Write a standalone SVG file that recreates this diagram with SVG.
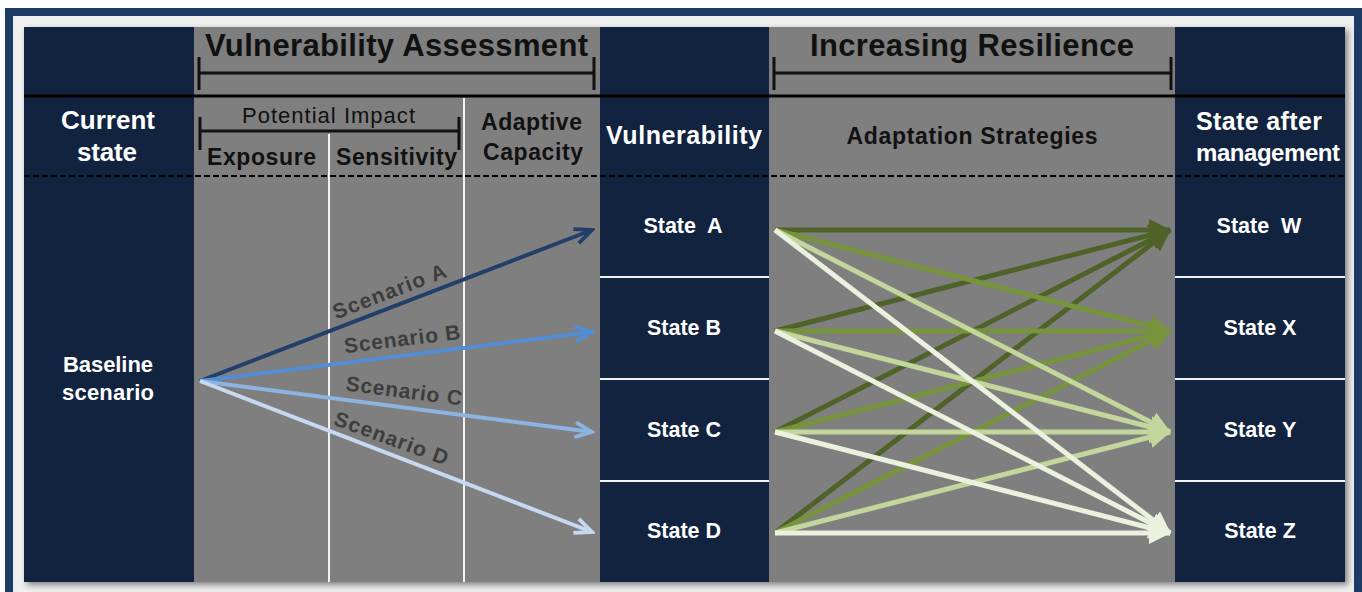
<svg xmlns="http://www.w3.org/2000/svg" width="1362" height="592" viewBox="0 0 1362 592">
<style>
.navy{fill:#11233f}
.gray{fill:#7f7f7f}
.wt{fill:#ffffff;font-family:"Liberation Sans",Arial,sans-serif;font-weight:bold;text-anchor:middle}
.bk{fill:#111111;font-family:"Liberation Sans",Arial,sans-serif;font-weight:bold;text-anchor:middle}
.bkr{fill:#111111;font-family:"Liberation Sans",Arial,sans-serif;font-weight:normal;text-anchor:middle}
.sc{fill:#3d3d3d;font-family:"Liberation Sans",Arial,sans-serif;font-weight:bold;font-size:21px;text-anchor:middle}
.pre{white-space:pre}
.div{stroke:#f2f2f2;stroke-width:2}
.brk{stroke:#111111;stroke-width:3;fill:none}
.scen{stroke-width:4;fill:none}
.grn{stroke-width:5;fill:none}
</style>
<defs>
<filter id="sh" x="-5%" y="-5%" width="110%" height="110%"><feGaussianBlur stdDeviation="3"/></filter>
<marker id="mA" viewBox="-3 -3 23 21" markerWidth="23" markerHeight="21" refX="17" refY="7.5" orient="auto" markerUnits="userSpaceOnUse"><path d="M0,0 L17,7.5 L0,15" fill="none" stroke="#213f69" stroke-width="3.8"/></marker>
<marker id="mB" viewBox="-3 -3 23 21" markerWidth="23" markerHeight="21" refX="17" refY="7.5" orient="auto" markerUnits="userSpaceOnUse"><path d="M0,0 L17,7.5 L0,15" fill="none" stroke="#538dd5" stroke-width="3.8"/></marker>
<marker id="mC" viewBox="-3 -3 23 21" markerWidth="23" markerHeight="21" refX="17" refY="7.5" orient="auto" markerUnits="userSpaceOnUse"><path d="M0,0 L17,7.5 L0,15" fill="none" stroke="#8db3e2" stroke-width="3.8"/></marker>
<marker id="mD" viewBox="-3 -3 23 21" markerWidth="23" markerHeight="21" refX="17" refY="7.5" orient="auto" markerUnits="userSpaceOnUse"><path d="M0,0 L17,7.5 L0,15" fill="none" stroke="#c6d9f1" stroke-width="3.8"/></marker>
<marker id="gW" viewBox="0 0 22 22" markerWidth="22" markerHeight="22" refX="21" refY="11" orient="auto" markerUnits="userSpaceOnUse"><path d="M0,0 L22,11 L0,22 z" fill="#4f6228"/></marker>
<marker id="gX" viewBox="0 0 22 22" markerWidth="22" markerHeight="22" refX="21" refY="11" orient="auto" markerUnits="userSpaceOnUse"><path d="M0,0 L22,11 L0,22 z" fill="#77933c"/></marker>
<marker id="gY" viewBox="0 0 22 22" markerWidth="22" markerHeight="22" refX="21" refY="11" orient="auto" markerUnits="userSpaceOnUse"><path d="M0,0 L22,11 L0,22 z" fill="#c3d69b"/></marker>
<marker id="gZ" viewBox="0 0 22 22" markerWidth="22" markerHeight="22" refX="21" refY="11" orient="auto" markerUnits="userSpaceOnUse"><path d="M0,0 L22,11 L0,22 z" fill="#ebf1de"/></marker>
</defs>

<g id="frame">
<rect x="0" y="0" width="1362" height="592" fill="#ffffff"/>
<rect x="5" y="8" width="1357" height="590" fill="#1c3a63"/>
<rect x="13" y="16" width="1341" height="590" fill="#efefef"/>
<rect x="27" y="30" width="1321" height="555" fill="#000" opacity="0.45" filter="url(#sh)"/>
</g>

<g id="columns">
<rect class="navy" x="24" y="27" width="170" height="555"/>
<rect class="gray" x="194" y="27" width="406" height="555"/>
<rect class="navy" x="600" y="27" width="169" height="555"/>
<rect class="gray" x="769" y="27" width="406" height="555"/>
<rect class="navy" x="1175" y="27" width="170" height="555"/>
<line x1="24" y1="96" x2="1345" y2="96" stroke="#000" stroke-width="3"/>
<line x1="24" y1="176" x2="1345" y2="176" stroke="#000" stroke-width="2" stroke-dasharray="6,3"/>
<line class="div" x1="329" y1="134" x2="329" y2="582"/>
<line class="div" x1="464" y1="98" x2="464" y2="582"/>
<line class="div" x1="600" y1="277" x2="769" y2="277"/>
<line class="div" x1="600" y1="379" x2="769" y2="379"/>
<line class="div" x1="600" y1="481" x2="769" y2="481"/>
<line class="div" x1="1175" y1="277" x2="1345" y2="277"/>
<line class="div" x1="1175" y1="379" x2="1345" y2="379"/>
<line class="div" x1="1175" y1="481" x2="1345" y2="481"/>
</g>

<g id="vulnerability-assessment-header">
<text class="bk" x="396.5" y="56" font-size="31" textLength="383">Vulnerability Assessment</text>
<path class="brk" d="M199,57 V90 M199,73 H594 M594,57 V90"/>
</g>
<g id="increasing-resilience-header">
<text class="bk" x="972" y="56" font-size="31" textLength="324">Increasing Resilience</text>
<path class="brk" d="M774,57 V90 M774,73 H1171 M1171,57 V90"/>
</g>

<g id="current-state">
<text class="wt" x="108" y="129" font-size="26" textLength="94">Current</text>
<text class="wt" x="107" y="161" font-size="26" textLength="60">state</text>
</g>
<g id="potential-impact">
<text class="bkr" x="328.5" y="123" font-size="22" textLength="173">Potential Impact</text>
<path class="brk" d="M200,117 V150 M200,131 H459 M459,117 V150"/>
</g>
<g id="exposure"><text class="bk" x="261.5" y="165" font-size="23" textLength="109">Exposure</text></g>
<g id="sensitivity"><text class="bk" x="396.5" y="165" font-size="23" textLength="121">Sensitivity</text></g>
<g id="adaptive-capacity">
<text class="bk" x="531.5" y="130" font-size="23" textLength="101">Adaptive</text>
<text class="bk" x="533" y="160" font-size="23" textLength="100">Capacity</text>
</g>
<g id="vulnerability"><text class="wt" x="684" y="144" font-size="25" textLength="156">Vulnerability</text></g>
<g id="adaptation-strategies"><text class="bk" x="972" y="144" font-size="23" textLength="251">Adaptation Strategies</text></g>
<g id="state-after-management">
<text class="wt" x="1259" y="130" font-size="25" textLength="126">State after</text>
<text class="wt" x="1268" y="161" font-size="24" textLength="144">management</text>
</g>

<g id="baseline-scenario">
<text class="wt" x="108" y="372" font-size="22" textLength="90">Baseline</text>
<text class="wt" x="108" y="400" font-size="22" textLength="92">scenario</text>
</g>

<g id="state-a"><text class="wt pre" x="683" y="233" font-size="21.5">State  A</text></g>
<g id="state-b"><text class="wt" x="684" y="335" font-size="21.5">State B</text></g>
<g id="state-c"><text class="wt" x="684" y="437" font-size="21.5">State C</text></g>
<g id="state-d"><text class="wt" x="684" y="538" font-size="21.5">State D</text></g>
<g id="state-w"><text class="wt pre" x="1259" y="233" font-size="21.5">State  W</text></g>
<g id="state-x"><text class="wt" x="1260" y="335" font-size="21.5">State X</text></g>
<g id="state-y"><text class="wt" x="1260" y="437" font-size="21.5">State Y</text></g>
<g id="state-z"><text class="wt" x="1260" y="538" font-size="21.5">State Z</text></g>

<g id="connectors">
<line class="scen" x1="200" y1="381" x2="592" y2="230" stroke="#213f69" marker-end="url(#mA)"/>
<line class="scen" x1="200" y1="381" x2="592" y2="332" stroke="#538dd5" marker-end="url(#mB)"/>
<line class="scen" x1="200" y1="381" x2="592" y2="432" stroke="#8db3e2" marker-end="url(#mC)"/>
<line class="scen" x1="200" y1="381" x2="592" y2="532" stroke="#c6d9f1" marker-end="url(#mD)"/>
<text class="sc" x="392" y="298" transform="rotate(-21 392 298)" textLength="120">Scenario A</text>
<text class="sc" x="403" y="346" transform="rotate(-7 403 346)" textLength="117">Scenario B</text>
<text class="sc" x="403" y="398" transform="rotate(7.4 403 398)" textLength="117">Scenario C</text>
<text class="sc" x="389" y="445" transform="rotate(20 389 445)" textLength="120">Scenario D</text>

<g stroke="#4f6228">
<line class="grn" x1="775" y1="230" x2="1170" y2="230" marker-end="url(#gW)"/>
<line class="grn" x1="775" y1="331" x2="1170" y2="230" marker-end="url(#gW)"/>
<line class="grn" x1="775" y1="432" x2="1170" y2="230" marker-end="url(#gW)"/>
<line class="grn" x1="775" y1="533" x2="1170" y2="230" marker-end="url(#gW)"/>
</g>
<g stroke="#77933c">
<line class="grn" x1="775" y1="230" x2="1170" y2="331" marker-end="url(#gX)"/>
<line class="grn" x1="775" y1="331" x2="1170" y2="331" marker-end="url(#gX)"/>
<line class="grn" x1="775" y1="432" x2="1170" y2="331" marker-end="url(#gX)"/>
<line class="grn" x1="775" y1="533" x2="1170" y2="331" marker-end="url(#gX)"/>
</g>
<g stroke="#c3d69b">
<line class="grn" x1="775" y1="230" x2="1170" y2="432" marker-end="url(#gY)"/>
<line class="grn" x1="775" y1="331" x2="1170" y2="432" marker-end="url(#gY)"/>
<line class="grn" x1="775" y1="432" x2="1170" y2="432" marker-end="url(#gY)"/>
<line class="grn" x1="775" y1="533" x2="1170" y2="432" marker-end="url(#gY)"/>
</g>
<g stroke="#ebf1de">
<line class="grn" x1="775" y1="230" x2="1170" y2="533" marker-end="url(#gZ)"/>
<line class="grn" x1="775" y1="331" x2="1170" y2="533" marker-end="url(#gZ)"/>
<line class="grn" x1="775" y1="432" x2="1170" y2="533" marker-end="url(#gZ)"/>
<line class="grn" x1="775" y1="533" x2="1170" y2="533" marker-end="url(#gZ)"/>
</g>
</g>
</svg>
